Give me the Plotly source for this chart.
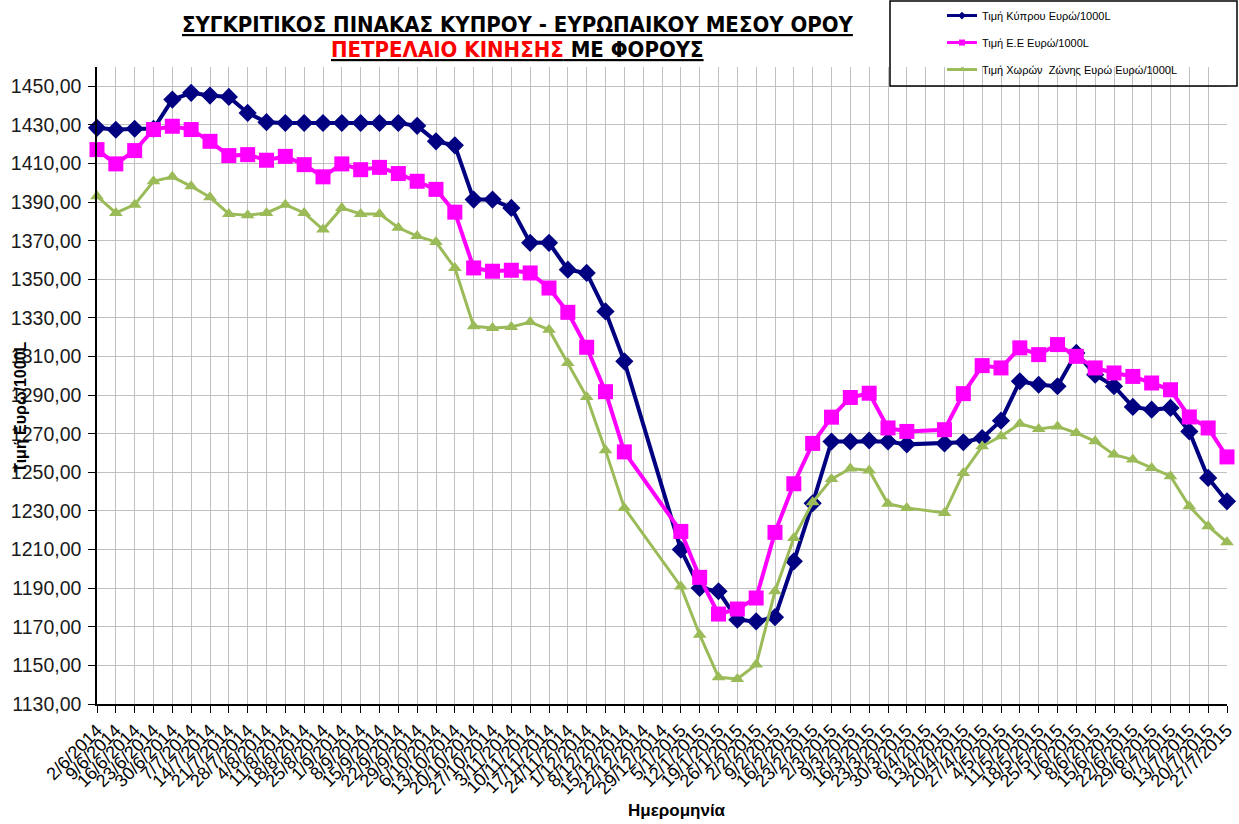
import pandas as pd
import plotly.graph_objects as go

# ---------------- data ----------------
tick_labels = [
    "2/6/2014", "9/6/2014", "16/6/2014", "23/6/2014", "30/6/2014",
    "7/7/2014", "14/7/2014", "21/7/2014", "28/7/2014",
    "4/8/2014", "11/8/2014", "18/8/2014", "25/8/2014",
    "1/9/2014", "8/9/2014", "15/9/2014", "22/9/2014", "29/9/2014",
    "6/10/2014", "13/10/2014", "20/10/2014", "27/10/2014",
    "3/11/2014", "10/11/2014", "17/11/2014", "24/11/2014",
    "1/12/2014", "8/12/2014", "15/12/2014", "22/12/2014", "29/12/2014",
    "5/1/2015", "12/1/2015", "19/1/2015", "26/1/2015",
    "2/2/2015", "9/2/2015", "16/2/2015", "23/2/2015",
    "2/3/2015", "9/3/2015", "16/3/2015", "23/3/2015", "30/3/2015",
    "6/4/2015", "13/4/2015", "20/4/2015", "27/4/2015",
    "4/5/2015", "11/5/2015", "18/5/2015", "25/5/2015",
    "1/6/2015", "8/6/2015", "15/6/2015", "22/6/2015", "29/6/2015",
    "6/7/2015", "13/7/2015", "20/7/2015", "27/7/2015",
]

dates = [
    "2/6/2014", "9/6/2014", "16/6/2014", "23/6/2014", "30/6/2014",
    "7/7/2014", "14/7/2014", "21/7/2014", "28/7/2014",
    "4/8/2014", "11/8/2014", "18/8/2014", "25/8/2014",
    "1/9/2014", "8/9/2014", "15/9/2014", "22/9/2014", "29/9/2014",
    "6/10/2014", "13/10/2014", "20/10/2014", "27/10/2014",
    "3/11/2014", "10/11/2014", "17/11/2014", "24/11/2014",
    "1/12/2014", "8/12/2014", "15/12/2014",
    "5/1/2015", "12/1/2015", "19/1/2015", "26/1/2015",
    "2/2/2015", "9/2/2015", "16/2/2015", "23/2/2015",
    "2/3/2015", "9/3/2015", "16/3/2015", "23/3/2015", "30/3/2015",
    "13/4/2015", "20/4/2015", "27/4/2015",
    "4/5/2015", "11/5/2015", "18/5/2015", "25/5/2015",
    "1/6/2015", "8/6/2015", "15/6/2015", "22/6/2015", "29/6/2015",
    "6/7/2015", "13/7/2015", "20/7/2015", "27/7/2015",
]

cyprus_vals = [
    1428.5, 1427.5, 1428.0, 1428.0, 1443.1,
    1446.6, 1445.2, 1444.5, 1436.2,
    1431.4, 1431.0, 1431.0, 1431.0,
    1431.0, 1431.0, 1431.0, 1431.0, 1429.5,
    1421.5, 1419.4, 1391.3, 1391.3,
    1387.0, 1368.9, 1368.9, 1355.0,
    1353.3, 1333.4, 1307.5,
    1210.0, 1190.1, 1188.4, 1173.7,
    1172.8, 1175.0, 1203.9, 1234.0,
    1266.0, 1266.0, 1266.5, 1266.0, 1264.5,
    1265.0, 1265.6, 1267.8,
    1276.8, 1297.2, 1295.4, 1294.6,
    1311.9, 1300.6, 1294.6, 1283.9, 1282.5,
    1283.4, 1271.2, 1247.1, 1235.0,
]

eu_vals = [
    1417.2, 1409.8, 1416.7, 1427.6, 1429.3,
    1427.6, 1421.5, 1414.1, 1414.6,
    1411.7, 1413.7, 1409.4, 1403.1,
    1409.8, 1406.8, 1408.0, 1404.8, 1400.8,
    1396.6, 1384.8, 1355.9, 1354.2,
    1354.7, 1353.3, 1345.5, 1332.9,
    1314.8, 1291.8, 1260.6,
    1219.4, 1195.6, 1176.6, 1179.2,
    1184.9, 1218.9, 1244.1, 1265.0,
    1278.6, 1288.8, 1291.0, 1273.0, 1271.2,
    1272.1, 1290.8, 1305.3,
    1304.1, 1314.5, 1311.0, 1316.2,
    1310.1, 1304.1, 1301.5, 1299.7, 1296.3,
    1292.8, 1278.7, 1273.0, 1258.0,
]

zone_vals = [
    1393.0, 1384.4, 1388.7, 1400.8, 1403.1,
    1398.2, 1392.5, 1383.9, 1383.2,
    1384.4, 1388.7, 1384.4, 1375.8,
    1387.0, 1383.9, 1383.9, 1376.7, 1372.4,
    1369.3, 1355.9, 1325.7, 1324.8,
    1325.3, 1327.9, 1323.9, 1306.7,
    1289.1, 1261.4, 1231.6,
    1190.9, 1165.9, 1143.8, 1143.0,
    1150.4, 1188.4, 1216.0, 1234.5,
    1246.5, 1252.0, 1251.0, 1233.7, 1231.6,
    1229.0, 1249.7, 1263.5,
    1268.7, 1275.2, 1272.5, 1273.8,
    1270.4, 1266.1, 1259.2, 1256.6, 1252.3,
    1248.0, 1232.4, 1222.1, 1213.8,
]

series_names = [
    "Τιμή Κύπρου Ευρώ/1000L",
    "Τιμή Ε.Ε Ευρώ/1000L",
    "Τιμή Χωρών  Ζώνης Ευρώ Ευρώ/1000L",
]

y_ticks = list(range(1130, 1451, 20))

# ---------------- figure ----------------
W, H = 1239, 824
ML, MR, MT, MB = 97, 12, 67, 824 - 704.3
PW, PH = W - ML - MR, H - MT - MB


def px_x(p):
    """window pixel x -> paper fraction"""
    return (p - ML) / PW


def px_y(p):
    """window pixel y -> paper fraction"""
    return (H - MB - p) / PH


x_data = pd.to_datetime(dates, dayfirst=True)
x_ticks = pd.to_datetime(tick_labels, dayfirst=True)

styles = [
    dict(color="#000080", symbol="diamond", msize=14, lw=4),
    dict(color="#FF00FF", symbol="square", msize=15, lw=4),
    dict(color="#9BBB59", symbol="triangle-up", msize=12, lw=3),
]
values = [cyprus_vals, eu_vals, zone_vals]

fig = go.Figure()
for name, vals, st in zip(series_names, values, styles):
    fig.add_trace(go.Scatter(
        x=x_data, y=vals, mode="lines+markers", name=name,
        line=dict(color=st["color"], width=st["lw"]),
        marker=dict(symbol=st["symbol"], size=st["msize"], color=st["color"]),
        showlegend=False, hoverinfo="x+y", cliponaxis=False,
    ))

# legend entries (small markers as in the reference)
for i, (name, st) in enumerate(zip(series_names, styles)):
    fig.add_trace(go.Scatter(
        x=[None], y=[None], mode="lines+markers", name=name,
        line=dict(color=st["color"], width=3),
        marker=dict(symbol=st["symbol"], size=6, color=st["color"]),
        legendgroup=f"g{i}", showlegend=True,
    ))

fig.update_layout(
    width=W, height=H,
    margin=dict(l=ML, r=MR, t=MT, b=MB, autoexpand=False),
    paper_bgcolor="white", plot_bgcolor="white",
    separators=",.",
    font=dict(family="Liberation Sans, Arial, sans-serif", color="black"),
    showlegend=True,
    legend=dict(
        x=px_x(942), y=px_y(1), xanchor="left", yanchor="top",
        bgcolor="rgba(0,0,0,0)", borderwidth=0,
        font=dict(size=11, family="Liberation Sans, Arial, sans-serif", color="black"),
        tracegroupgap=8, traceorder="grouped",
    ),
    xaxis=dict(
        type="date",
        range=[x_ticks[0], x_ticks[-1]],
        tickmode="array", tickvals=x_ticks, ticktext=tick_labels,
        tickangle=-45, tickfont=dict(size=18, color="black"),
        showgrid=True, gridcolor="#C0C0C0", gridwidth=1,
        showline=True, linecolor="black", linewidth=1.5,
        ticks="outside", ticklen=7, tickcolor="black",
        zeroline=False,
    ),
    yaxis=dict(
        range=[1130, 1460],
        tickmode="array", tickvals=y_ticks, tickformat=".2f",
        tickfont=dict(size=19.5, color="#1a1a1a"),
        ticklabelstandoff=3,
        showgrid=True, gridcolor="#C0C0C0", gridwidth=1,
        showline=True, linecolor="black", linewidth=1.5,
        ticks="outside", ticklen=7, tickcolor="black",
        zeroline=False,
    ),
    shapes=[dict(
        type="rect", xref="paper", yref="paper",
        x0=px_x(890), x1=px_x(1237), y0=px_y(86), y1=px_y(1),
        line=dict(color="black", width=1.5), fillcolor="rgba(0,0,0,0)",
        layer="above",
    )],
    annotations=[
        dict(
            text="<b><u>ΣΥΓΚΡΙΤΙΚΟΣ ΠΙΝΑΚΑΣ ΚΥΠΡΟΥ - ΕΥΡΩΠΑΙΚΟΥ ΜΕΣΟΥ ΟΡΟΥ</u></b>",
            xref="paper", yref="paper", x=px_x(518), y=px_y(24),
            xanchor="center", yanchor="middle", showarrow=False,
            font=dict(size=22, color="black",
                      family="Liberation Sans Narrow, DejaVu Sans Condensed, Arial Narrow, sans-serif"),
        ),
        dict(
            text="<b><u><span style='color:#FF0000'>ΠΕΤΡΕΛΑΙΟ ΚΙΝΗΣΗΣ</span> ΜΕ ΦΟΡΟΥΣ</u></b>",
            xref="paper", yref="paper", x=px_x(517), y=px_y(49),
            xanchor="center", yanchor="middle", showarrow=False,
            font=dict(size=22, color="black",
                      family="Liberation Sans Narrow, DejaVu Sans Condensed, Arial Narrow, sans-serif"),
        ),
        dict(
            text="<b>Τιμή Ευρώ/1000L</b>",
            xref="paper", yref="paper", x=px_x(21), y=px_y(408),
            xanchor="center", yanchor="middle", textangle=-90, showarrow=False,
            font=dict(size=16, color="black"),
        ),
        dict(
            text="<b>Ημερομηνία</b>",
            xref="paper", yref="paper", x=px_x(677), y=px_y(811),
            xanchor="center", yanchor="middle", showarrow=False,
            font=dict(size=17, color="black"),
        ),
    ],
)

# the page body has a default 8px margin; remove it so the figure fills the window
fig.write_html(
    "out.html",
    config={"displayModeBar": False},
    post_script="document.body.style.margin='0px';",
)
